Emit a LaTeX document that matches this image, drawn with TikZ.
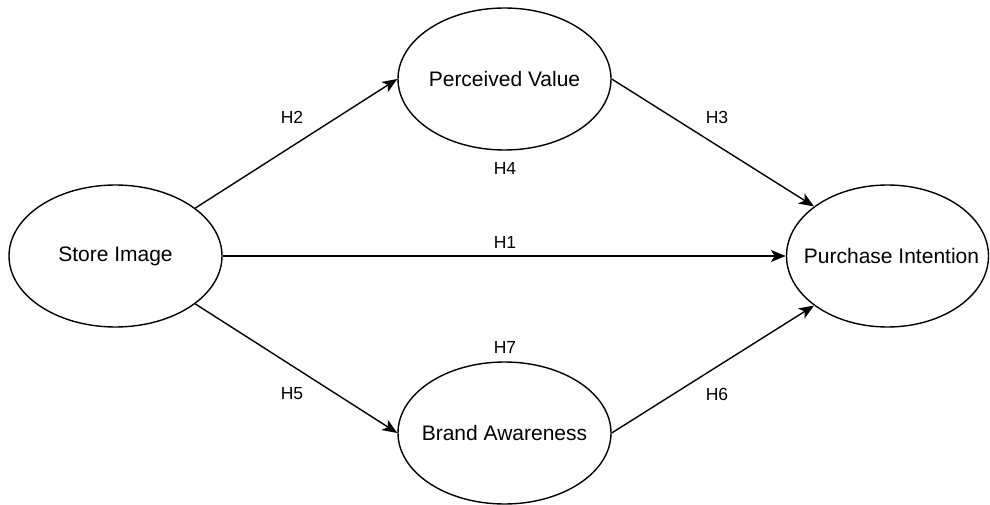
\documentclass[tikz,border=0pt]{standalone}
\usepackage{fontspec}
\setmainfont{Liberation Sans}
\usetikzlibrary{shapes.geometric,arrows.meta}
\begin{document}
\begin{tikzpicture}[x=1pt,y=1pt,
  construct/.style={ellipse,draw,line width=1.4pt,minimum width=213pt,minimum height=142pt,inner sep=0pt,font=\fontsize{21}{25}\selectfont},
  link/.style={draw,line width=1.4pt,-{Stealth[length=15pt,width=12pt,inset=4pt]}},
  hlabel/.style={font=\fontsize{17.5}{21}\selectfont,inner sep=0pt}]
\useasboundingbox (0,0) rectangle (990,504);
\begin{scope}
\clip (0,0) rectangle (990,504);
\node[construct] (si) at (115.5,248) {\makebox[0pt]{Store Image}};
\node[construct] (pv) at (504.5,425) {\makebox[0pt]{Perceived Value}};
\node[construct] (ba) at (504.5,71) {\makebox[0pt]{Brand Awareness}};
\node[construct,minimum width=202pt] (pi) at (887.5,248) {\makebox[0pt]{\hspace{8pt}Purchase Intention}};
\end{scope}
\draw[link] (si.31) -- (pv.west);
\draw[link] (si.east) -- (pi.west);
\draw[link] (si.-31) -- (ba.west);
\draw[link] (pv.east) -- (pi.146);
\draw[link] (ba.east) -- (pi.214);
\node[hlabel] (h2) at (292,387) {H2};
\node[hlabel] (h4) at (505,336) {H4};
\node[hlabel] (h3) at (717,387) {H3};
\node[hlabel] (h1) at (505,262) {H1};
\node[hlabel] (h7) at (505,157) {H7};
\node[hlabel] (h5) at (292,110) {H5};
\node[hlabel] (h6) at (717,110) {H6};
\end{tikzpicture}
\end{document}
